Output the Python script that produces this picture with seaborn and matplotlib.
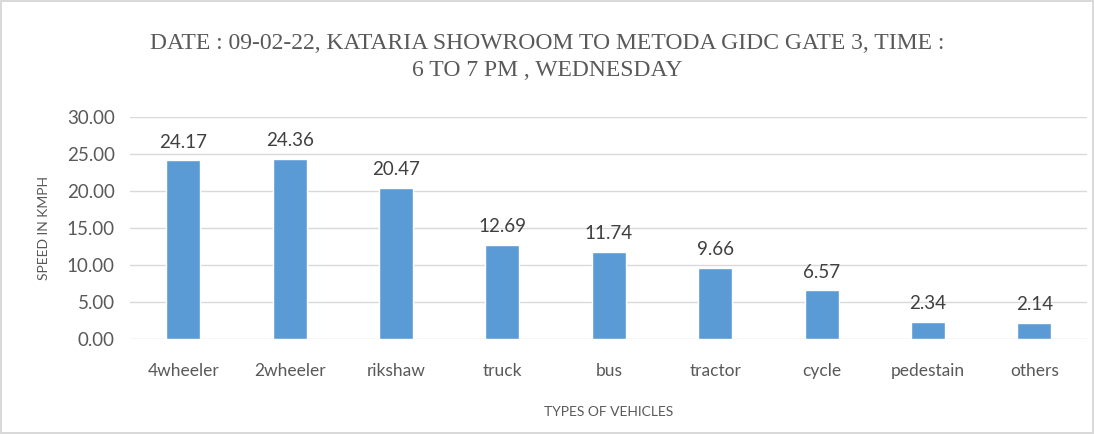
import numpy as np
import pandas as pd
import matplotlib
matplotlib.use('Agg')
import matplotlib.pyplot as plt
import seaborn as sns

# chart data
vehicles = ['4wheeler', '2wheeler', 'rikshaw', 'truck', 'bus', 'tractor', 'cycle', 'pedestain', 'others']
speeds = [24.17, 24.36, 20.47, 12.69, 11.74, 9.66, 6.57, 2.34, 2.14]
title = 'DATE : 09-02-22, KATARIA SHOWROOM TO METODA GIDC GATE 3, TIME :\n6 TO 7 PM , WEDNESDAY'

df = pd.DataFrame({'vehicle': vehicles, 'speed': speeds})

sns.set_style('white')
plt.rcParams['font.family'] = ['Lato', 'DejaVu Sans']
text_col = '#595959'

fig = plt.figure(figsize=(10.94, 4.34), dpi=100)
ax = fig.add_axes([0.119, 0.219, 0.875, 0.511])

sns.barplot(data=df, x='vehicle', y='speed', color='#5b9bd5', saturation=1, width=0.32, ax=ax, zorder=3)

# value labels above bars
for i, v in enumerate(speeds):
    ax.annotate(f'{v:.2f}', (i, v), xytext=(0, 7), textcoords='offset points',
                ha='center', va='bottom', fontsize=13.5, color='#404040')

ax.set_ylim(0, 30)
ax.set_yticks(np.arange(0, 31, 5))
ax.set_yticklabels([f'{t:.2f}' for t in np.arange(0, 31, 5)])
ax.set_xlim(-0.5, len(vehicles) - 0.5)
ax.grid(axis='y', color='#d9d9d9', linewidth=1, zorder=0)
for s in ax.spines.values():
    s.set_visible(False)
ax.tick_params(axis='y', length=0, pad=11, labelsize=13.5, labelcolor=text_col)
ax.tick_params(axis='x', length=0, pad=17, labelsize=12.5, labelcolor=text_col)

ax.set_xlabel('TYPES OF VEHICLES', fontsize=10, color=text_col, labelpad=20)
ax.set_ylabel('SPEED IN KMPH', fontsize=10, color=text_col, labelpad=12)

fig.suptitle(title, fontsize=17, color=text_col, family='Liberation Serif', y=0.925, linespacing=1.4)

# thin outer border like the chart frame
fig.patch.set_edgecolor('#d9d9d9')
fig.patch.set_linewidth(1.5)

plt.savefig('out.png', dpi=100, edgecolor=fig.get_edgecolor())
